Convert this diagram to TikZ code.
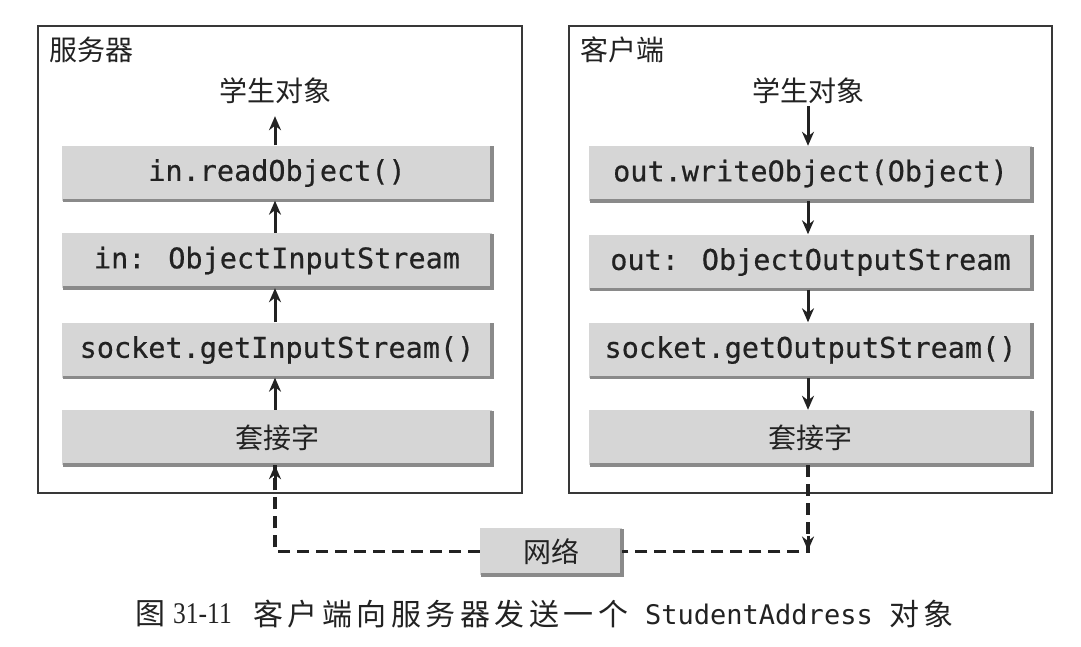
\documentclass[tikz,border=0pt]{standalone}
\usepackage{fontspec}
\setmainfont{Liberation Serif}
\newfontfamily\cjk{Noto Sans CJK SC}
\newfontfamily\cjkcap[LetterSpace=15]{Noto Sans CJK SC}
\newfontfamily\capnum[FakeStretch=0.85]{Liberation Serif}
\newfontfamily\mono[FakeBold=0.5]{DejaVu Sans Mono}
\newfontfamily\capmono{DejaVu Sans Mono}
\usetikzlibrary{arrows.meta}
\definecolor{boxfill}{HTML}{D6D6D6}
\definecolor{boxshadow}{HTML}{8A8A8A}
\definecolor{framec}{HTML}{383838}
\definecolor{inkc}{HTML}{222222}
\begin{document}
\begin{tikzpicture}[x=1pt,y=-1pt,
  stepbox/.style={fill=boxfill, minimum height=55pt, inner sep=0pt, text=inkc,
    font=\mono\fontsize{28.5}{30}\selectfont},
  lbox/.style={stepbox, minimum width=430pt},
  rbox/.style={stepbox, minimum width=443pt},
  cjklabel/.style={inner sep=0pt, text=inkc, font=\cjk\fontsize{28}{30}\selectfont},
  cjkbox/.style={stepbox, font=\cjk\fontsize{28}{30}\selectfont},
  frame/.style={draw=framec, line width=2pt},
  arr/.style={draw=inkc, line width=3pt, -{Stealth[length=14pt,width=12pt]}},
  dashline/.style={draw=inkc, line width=3.2pt, dash pattern=on 12pt off 7pt},
  shadowline/.style={draw=boxshadow, line width=3.5pt},
  captext/.style={anchor=west, inner sep=0pt, text=inkc},
]
\useasboundingbox (0,0) rectangle (1081,646);

% frames
\draw[frame] (38,26) rectangle (522,493);
\draw[frame] (569,26) rectangle (1052,493);

% server side
\node[cjklabel, anchor=west] (stitle) at (49,50) {服务器};
\node[cjklabel] (lobj) at (275,91) {学生对象};
\node[lbox] (l1) at (277,173) {in.readObject()};
\node[lbox] (l2) at (277,260.5) {in: ObjectInputStream};
\node[lbox] (l3) at (277,350) {socket.getInputStream()};
\node[cjkbox, minimum width=430pt] (l4) at (277,437.5) {套接字};

% client side
\node[cjklabel, anchor=west] (ctitle) at (580,50) {客户端};
\node[cjklabel] (robj) at (808,91) {学生对象};
\node[rbox] (r1) at (810.5,173.5) {out.writeObject(Object)};
\node[rbox] (r2) at (810.5,262) {out: ObjectOutputStream};
\node[rbox] (r3) at (810.5,350) {socket.getOutputStream()};
\node[cjkbox, minimum width=443pt] (r4) at (810.5,437.5) {套接字};

% network
\node[cjkbox, minimum width=142pt, minimum height=47pt] (net) at (551,551.5) {网络};

% shadows
\foreach \n in {l1,l2,l3,l4,r1,r2,r3,r4,net}{
  \draw[shadowline] ([xshift=1pt]\n.south west) -- (\n.south east) -- ([yshift=-1pt]\n.north east);
}

% server arrows (upward)
\draw[arr, shorten >=12pt] (l1.north -| lobj.south) -- (lobj.south);
\draw[arr] (l2.north -| lobj.south) -- (l1.south -| lobj.south);
\draw[arr] (l3.north -| lobj.south) -- (l2.south -| lobj.south);
\draw[arr] (l4.north -| lobj.south) -- (l3.south -| lobj.south);

% client arrows (downward)
\draw[arr, shorten <=2pt] (robj.south) -- (r1.north -| robj.south);
\draw[arr] (r1.south -| robj.south) -- (r2.north -| robj.south);
\draw[arr] (r2.south -| robj.south) -- (r3.north -| robj.south);
\draw[arr] (r3.south -| robj.south) -- (r4.north -| robj.south);

% network connection
\coordinate (rc) at (r4.south -| robj.south);
\coordinate (rcorner) at (rc |- net.east);
\coordinate (lc) at (l4.south -| lobj.south);
\draw[dashline] (rc) -- (rcorner) -- (net.east);
\draw[arr, shorten >=1pt] ([yshift=16pt]rcorner) -- (rcorner);
\draw[dashline] (net.west) -| (lc);
\draw[arr] ([yshift=-16pt]lc) -- (lc);

% caption
\node[captext, font=\cjk\fontsize{30}{32}\selectfont] (cap1) at (135,614) {图};
\node[captext, font=\capnum\fontsize{30}{32}\selectfont] (cap2) at (173,614) {31-11};
\node[captext, font=\cjkcap\fontsize{30}{32}\selectfont] (cap3) at (253,614) {客户端向服务器发送一个};
\node[captext, font=\capmono\fontsize{27}{30}\selectfont] (cap4) at (645,614) {StudentAddress};
\node[captext, font=\cjkcap\fontsize{30}{32}\selectfont] (cap5) at (889,614) {对象};
\end{tikzpicture}
\end{document}
